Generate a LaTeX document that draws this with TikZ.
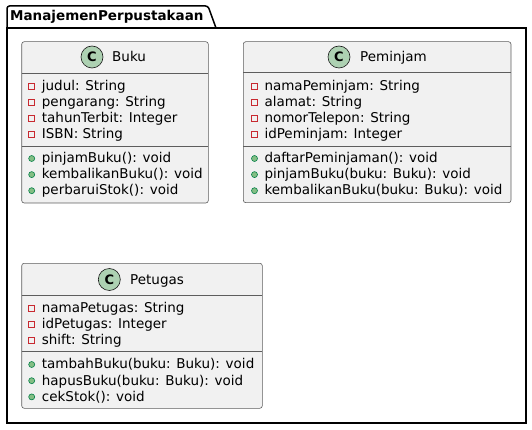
\documentclass[tikz,border=0pt]{standalone}
\usepackage{fontspec}
\setmainfont{DejaVu Sans}
\definecolor{boxfill}{HTML}{F1F1F1}
\definecolor{boxline}{HTML}{181818}
\definecolor{iconfill}{HTML}{ADD1B2}
\definecolor{privred}{HTML}{C82930}
\definecolor{pubfill}{HTML}{84BE84}
\definecolor{publine}{HTML}{038048}
\tikzset{
  pkg/.style={draw=black, line width=1.5pt},
  classbox/.style={draw=boxline!70, fill=boxfill, line width=0.6pt, rounded corners=2.5pt},
  sepline/.style={draw=boxline!70, line width=0.6pt},
  member/.style={anchor=base west, inner sep=0pt, font=\fontsize{13.5}{16}\selectfont},
  cname/.style={anchor=base west, inner sep=0pt, font=\fontsize{13.5}{16}\selectfont},
  cicon/.style={circle, draw=boxline, fill=iconfill, line width=0.6pt, minimum size=22pt, inner sep=0pt, font=\bfseries\fontsize{13}{15}\selectfont},
  privmark/.style={draw=privred, line width=0.8pt, minimum size=6pt, inner sep=0pt, rectangle},
  pubmark/.style={draw=publine, fill=pubfill, line width=0.6pt, circle, minimum size=6pt, inner sep=0pt},
}
\begin{document}
\begin{tikzpicture}[x=1pt,y=-1pt]
\useasboundingbox (0,0) rectangle (532,430);
% package
\draw[pkg] (7,28) rectangle (526,423);
\draw[pkg, rounded corners=2.5pt] (7,28) |- (208,6) -- (216,28);
\node[anchor=base west, inner sep=0pt, font=\bfseries\fontsize{13.5}{16}\selectfont] (ptitle) at (10,21) {ManajemenPerpustakaan};

% ---------- Buku ----------
\draw[classbox] (21.7,41.7) rectangle (208.3,203);
\draw[sepline] (21.7,73) -- (208.3,73);
\draw[sepline] (21.7,146) -- (208.3,146);
\node[cicon] (bukuicon) at (92,57) {C};
\node[cname] (bukuname) at (112,62) {Buku};
\foreach \t [count=\i] in {judul: String, pengarang: String, tahunTerbit: Integer, ISBN: String}{
  \node[privmark] (bukua\i) at (31.7,{86+16.1*(\i-1)}) {};
  \node[member] (bukuat\i) at (41.7,{90.5+16.1*(\i-1)}) {\t};
}
\foreach \t [count=\i] in {pinjamBuku(): void, kembalikanBuku(): void, perbaruiStok(): void}{
  \node[pubmark] (bukum\i) at (31.7,{158.5+16.1*(\i-1)}) {};
  \node[member] (bukumt\i) at (41.7,{162.8+16.1*(\i-1)}) {\t};
}

% ---------- Peminjam ----------
\draw[classbox] (243.3,41.7) rectangle (511,202.7);
\draw[sepline] (243.3,72.7) -- (511,72.7);
\draw[sepline] (243.3,146) -- (511,146);
\node[cicon] (pemicon) at (339,57) {C};
\node[cname] (pemname) at (360,62) {Peminjam};
\foreach \t [count=\i] in {namaPeminjam: String, alamat: String, nomorTelepon: String, idPeminjam: Integer}{
  \node[privmark] (pema\i) at (254.5,{86+16.1*(\i-1)}) {};
  \node[member] (pemat\i) at (264.3,{90.5+16.1*(\i-1)}) {\t};
}
\foreach \t [count=\i] in {daftarPeminjaman(): void, pinjamBuku(buku: Buku): void, kembalikanBuku(buku: Buku): void}{
  \node[pubmark] (pemm\i) at (254.5,{158.5+16.1*(\i-1)}) {};
  \node[member] (pemmt\i) at (264.3,{162.8+16.1*(\i-1)}) {\t};
}

% ---------- Petugas ----------
\draw[classbox] (21.7,263.3) rectangle (262.3,408.3);
\draw[sepline] (21.7,295.7) -- (262.3,295.7);
\draw[sepline] (21.7,351.7) -- (262.3,351.7);
\node[cicon] (peticon) at (109.3,279.5) {C};
\node[cname] (petname) at (130,284.5) {Petugas};
\foreach \t [count=\i] in {namaPetugas: String, idPetugas: Integer, shift: String}{
  \node[privmark] (peta\i) at (31.7,{308+16.2*(\i-1)}) {};
  \node[member] (petat\i) at (41.7,{312.3+16.2*(\i-1)}) {\t};
}
\foreach \t [count=\i] in {tambahBuku(buku: Buku): void, hapusBuku(buku: Buku): void, cekStok(): void}{
  \node[pubmark] (petm\i) at (31.7,{364.5+16.2*(\i-1)}) {};
  \node[member] (petmt\i) at (41.7,{368.8+16.2*(\i-1)}) {\t};
}
\end{tikzpicture}
\end{document}
